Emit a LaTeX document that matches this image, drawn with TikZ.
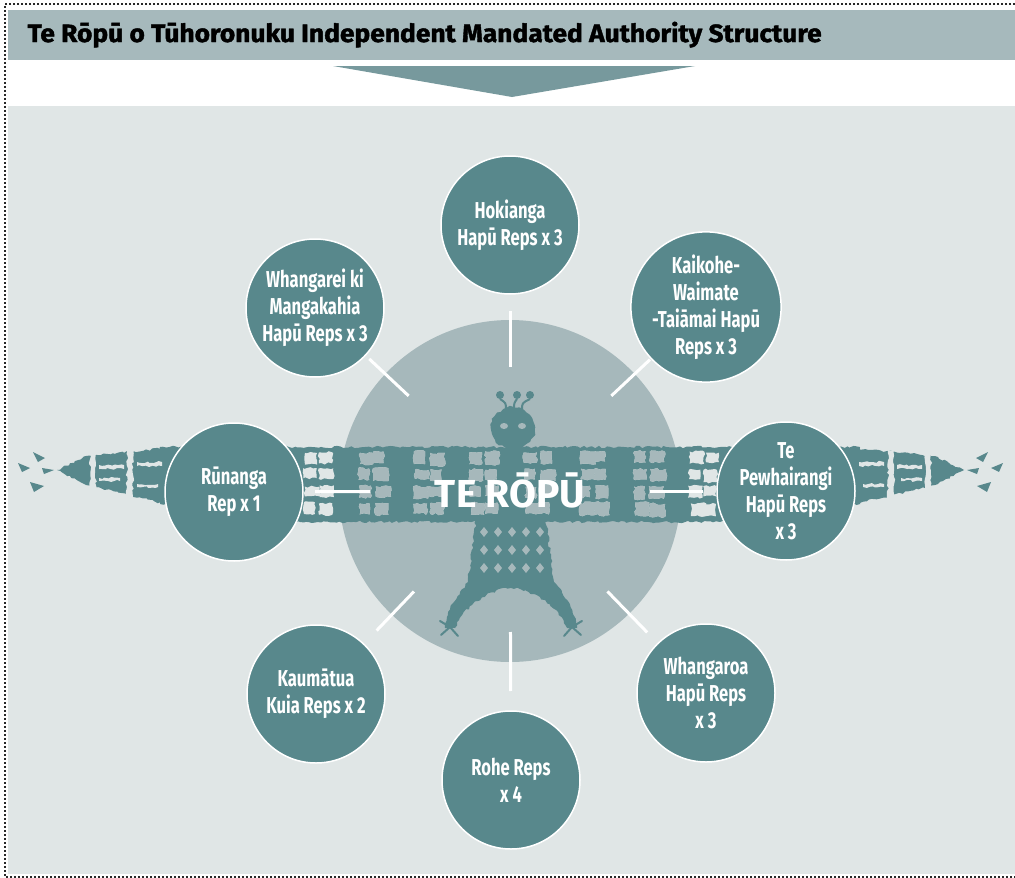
\documentclass[tikz,border=0pt]{standalone}
\usepackage{fontspec}
\usepackage{tikz}
\usetikzlibrary{positioning}
\usetikzlibrary{calc}
\usetikzlibrary{decorations.pathmorphing}

\newfontfamily\titlefont[FakeBold=1.6, FakeStretch=1.055]{Fira Sans}
\newfontfamily\ropufont{Fira Sans}
\newfontfamily\circfont[FakeStretch=0.72]{Fira Sans}

\definecolor{bgcol}{RGB}{224,230,230}
\definecolor{headcol}{RGB}{166,185,188}
\definecolor{tealcol}{RGB}{88,136,140}
\definecolor{ropucol}{RGB}{166,184,187}
\definecolor{arrowcol}{RGB}{119,153,157}
\definecolor{dotcol}{RGB}{40,40,40}

\tikzset{
  rep/.style={circle, fill=tealcol, draw=white, line width=1.5pt, minimum size=138pt,
    inner sep=0pt, text=white, align=center,
    font=\circfont\bfseries\fontsize{23}{27}\selectfont},
  spoke/.style={white, line width=3pt},
  rough/.style={decorate, decoration={random steps, segment length=3pt, amplitude=1.2pt}},
}

% light patches in the wing band
\newcommand\bandholes[1]{%
  \pgfmathsetseed{11}%
  \foreach \c in {0,...,7}{
    \foreach \s in {0,1}{
      \foreach \r in {0,...,3}{
        \pgfmathsetmacro\hx{303+55*\c+15*\s+3*rnd}
        \pgfmathsetmacro\hy{451+17*\r+2*rnd}
        \pgfmathsetmacro\hw{10+6*rnd}
        \pgfmathsetmacro\hh{9+4*rnd}
        \fill[#1, rough] (\hx,\hy) rectangle ++(\hw,\hh);
  }}}}

% one outer wing tip (left side)
\newcommand\wingtip{%
  \fill[tealcol, rough] (57,470) -- (86,456) -- (166,448) -- (166,504) -- (86,485) -- cycle;
  \fill[bgcol, rough] (90,453) rectangle (96,490);
  \fill[bgcol, rough] (127,450) rectangle (133,500);
  \fill[bgcol, rough] (99,465) rectangle (124,469);
  \fill[bgcol, rough] (99,478) rectangle (120,481);
  \fill[bgcol, rough] (137,462) rectangle (162,466);
  \fill[bgcol, rough] (137,484) rectangle (158,487);
  \fill[tealcol] (18,463) -- (30,468) -- (22,472) -- cycle;
  \fill[tealcol] (33,452) -- (45,458) -- (38,462) -- cycle;
  \fill[tealcol] (30,482) -- (44,486) -- (34,492) -- cycle;
  \fill[tealcol] (42,468) -- (54,470) -- (44,474) -- cycle;
}

\begin{document}
\begin{tikzpicture}[x=1pt, y=-1pt]
\pgfmathsetseed{7}
\useasboundingbox (0,0) rectangle (1015,878);
\fill[white] (0,0) rectangle (1015,878);

% frame, header and arrow
\fill[headcol] (8,10) rectangle (1015,60);
\fill[bgcol] (8,106) rectangle (1015,874);
\draw[dotcol, line width=2pt, dash pattern=on 2pt off 2pt] (1015,4) -- (5,4) -- (5,877) -- (1015,877);
\fill[arrowcol] (333,66) -- (695,66) -- (512,97) -- cycle;

\node[anchor=base west, font=\titlefont\bfseries\fontsize{25}{25}\selectfont] (title) at (24,42)
  {Te Rōpū o Tūhoronuku Independent Mandated Authority Structure};

% centre circle
\coordinate (mid) at (510,491);
\fill[ropucol] (mid) circle (171);

% bird
\fill[tealcol, rough] (160,447) -- (860,447) -- (860,504) -- (720,522) -- (300,522) -- (160,504) -- cycle;
\bandholes{bgcol}
\begin{scope}
\clip (mid) circle (171);
\bandholes{ropucol}
\end{scope}

\wingtip
\begin{scope}[xshift=1021pt, xscale=-1]
\wingtip
\end{scope}

\fill[tealcol, rough] (476,520) -- (468,582) .. controls (455,598) and (446,612) .. (445,628)
  -- (455,628) .. controls (462,610) and (485,590) .. (511,588)
  .. controls (537,590) and (560,610) .. (567,628) -- (577,628)
  .. controls (576,612) and (567,598) .. (554,582) -- (546,520) -- cycle;
\foreach \y in {532,550,568}
  \foreach \x in {480,494,...,540}
    \fill[ropucol] (\x,\y) -- ++(4,5) -- ++(4,-5) -- ++(-4,-5) -- cycle;
\fill[tealcol, rough] (513,428) ellipse [x radius=22, y radius=21];
\fill[ropucol] (504,426) ellipse [x radius=4, y radius=3];
\fill[ropucol] (522,426) ellipse [x radius=4, y radius=3];
\foreach \x/\t in {500/506, 517/514, 530/522}{
  \draw[tealcol, line width=2pt] (\t,410) .. controls (\t,403) .. (\x,399);
  \fill[tealcol] (\x,395) circle (4);
}
\draw[tealcol, line width=2pt, line cap=round] (450,627) -- (440,621) (450,627) -- (441,635) (450,627) -- (458,636);
\draw[tealcol, line width=2pt, line cap=round] (572,627) -- (582,621) (572,627) -- (581,635) (572,627) -- (564,636);

\node[anchor=base, text=white, font=\ropufont\bfseries\fontsize{39}{39}\selectfont] (ropu) at (510,507) {TE RŌPŪ};

% outer circles
\node[rep] (hok) at (510,225) {Hokianga\\Hapū Reps x 3};
\node[rep] (kai) at (706,307) {Kaikohe-\\Waimate\\-Taiāmai Hapū\\Reps x 3};
\node[rep] (tep) at (786,491) {Te\\Pewhairangi\\Hapū Reps\\x 3};
\node[rep] (wga) at (706,693) {Whangaroa\\Hapū Reps\\x 3};
\node[rep] (roh) at (511,780) {Rohe Reps\\x 4};
\node[rep] (kau) at (316,694) {Kaumātua\\Kuia Reps x 2};
\node[rep] (run) at (234,492) {Rūnanga\\Rep x 1};
\node[rep] (whr) at (315,308) {Whangarei ki\\Mangakahia\\Hapū Reps x 3};

% spokes
\foreach \n/\a/\b in {hok/124/180, kai/139/192, tep/140/193, wga/140/197,
                      roh/141/200, kau/139/193, run/140/195, whr/139/193}
  \draw[spoke] ($(mid)!\a pt!(\n.center)$) -- ($(mid)!\b pt!(\n.center)$);

\end{tikzpicture}
\end{document}
